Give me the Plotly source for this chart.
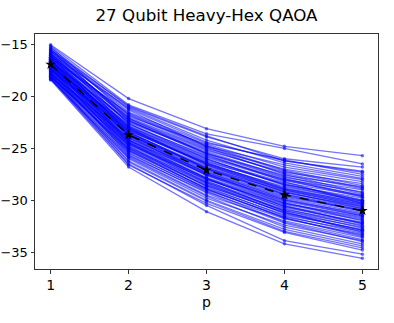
import plotly.graph_objects as go

p_values = [1, 2, 3, 4, 5]

# one row per QAOA instance: energy at p = 1..5
runs = [
    [-15.0, -20.2, -23.1, -24.8, -25.7],
    [-15.1, -20.8, -23.6, -25.0, -26.5],
    [-15.3, -21.0, -23.9, -26.0, -26.8],
    [-15.5, -21.2, -24.4, -26.2, -27.2],
    [-15.6, -21.5, -24.5, -26.1, -27.5],
    [-15.7, -21.3, -24.8, -26.6, -27.9],
    [-15.8, -21.9, -24.6, -26.8, -28.0],
    [-15.9, -22.0, -25.0, -27.0, -28.2],
    [-16.0, -22.2, -25.2, -27.3, -28.4],
    [-16.1, -22.1, -25.5, -27.6, -28.7],
    [-16.0, -22.5, -25.4, -27.8, -29.0],
    [-16.2, -22.6, -25.8, -28.0, -29.2],
    [-16.3, -22.8, -25.9, -28.1, -29.5],
    [-16.2, -22.9, -26.1, -28.3, -29.6],
    [-16.4, -23.0, -26.2, -28.5, -29.8],
    [-16.5, -23.1, -26.3, -28.4, -30.0],
    [-16.4, -23.3, -26.5, -28.7, -30.1],
    [-16.6, -23.2, -26.6, -28.9, -30.2],
    [-16.6, -23.5, -26.7, -29.0, -30.4],
    [-16.7, -23.4, -26.9, -29.1, -30.5],
    [-16.8, -23.6, -27.0, -29.3, -30.6],
    [-16.9, -23.7, -27.1, -29.4, -30.8],
    [-16.8, -23.8, -27.2, -29.6, -30.9],
    [-17.0, -23.9, -27.3, -29.7, -31.0],
    [-17.1, -24.0, -27.4, -29.8, -31.2],
    [-17.0, -24.1, -27.5, -30.0, -31.3],
    [-17.2, -24.2, -27.6, -30.1, -31.5],
    [-17.3, -24.3, -27.8, -30.3, -31.6],
    [-17.2, -24.5, -27.9, -30.4, -31.8],
    [-17.4, -24.6, -28.0, -30.6, -31.9],
    [-17.5, -24.7, -28.2, -30.7, -32.1],
    [-17.4, -24.9, -28.3, -30.9, -32.2],
    [-17.6, -25.0, -28.5, -31.0, -32.4],
    [-17.7, -25.2, -28.6, -31.2, -32.6],
    [-17.8, -25.3, -28.8, -31.4, -32.8],
    [-17.9, -25.5, -29.0, -31.6, -33.0],
    [-18.0, -25.7, -29.2, -31.8, -33.3],
    [-18.1, -25.8, -29.5, -32.0, -33.6],
    [-18.2, -26.0, -29.8, -32.4, -33.9],
    [-18.3, -26.2, -30.0, -32.8, -34.4],
    [-18.2, -26.5, -30.5, -33.9, -35.2],
    [-18.4, -26.8, -31.1, -34.2, -35.6],
    [-15.2, -21.8, -24.9, -27.5, -29.3],
    [-15.4, -22.3, -25.6, -28.2, -30.3],
    [-15.9, -21.1, -24.2, -26.4, -27.7],
    [-16.1, -23.6, -27.4, -30.2, -32.0],
    [-16.3, -21.6, -24.7, -27.1, -28.6],
    [-16.5, -24.4, -28.1, -31.1, -33.1],
    [-16.7, -22.4, -25.3, -27.7, -29.4],
    [-16.9, -24.8, -28.4, -31.3, -32.9],
    [-17.1, -22.7, -25.7, -28.0, -29.7],
    [-17.3, -25.1, -28.9, -31.7, -33.4],
    [-17.5, -23.3, -26.4, -28.8, -30.3],
    [-17.6, -25.6, -29.3, -32.2, -34.0],
    [-17.8, -24.0, -27.3, -29.9, -31.4],
    [-18.0, -26.3, -30.1, -33.0, -34.6],
    [-18.1, -24.6, -28.0, -30.5, -32.3],
    [-18.3, -25.9, -29.6, -32.6, -34.2],
    [-15.6, -22.1, -25.1, -27.4, -28.9],
    [-15.8, -22.6, -26.0, -28.6, -30.1],
    [-16.0, -23.0, -26.6, -29.2, -30.7],
    [-16.2, -23.4, -27.0, -29.5, -31.1],
    [-16.4, -23.8, -27.6, -30.3, -31.7],
    [-16.6, -24.2, -27.9, -30.8, -32.5],
    [-16.8, -24.5, -28.3, -31.0, -32.7],
    [-17.0, -22.9, -26.0, -28.5, -30.0],
    [-17.2, -23.2, -26.4, -28.9, -30.4],
    [-17.4, -23.7, -26.8, -29.2, -30.8],
    [-17.6, -24.2, -27.5, -30.0, -31.5],
    [-17.7, -24.8, -28.7, -31.5, -33.2],
    [-17.9, -25.4, -29.1, -32.1, -33.8],
    [-18.1, -25.0, -28.6, -31.2, -32.9],
    [-18.3, -26.6, -30.3, -33.1, -34.8],
    [-15.5, -20.9, -23.8, -26.2, -27.3],
    [-16.1, -21.7, -24.8, -27.2, -28.8],
    [-16.6, -22.3, -25.5, -27.9, -29.6],
    [-16.9, -23.1, -26.5, -29.0, -30.6],
    [-17.3, -23.5, -26.9, -29.4, -31.0],
    [-17.8, -24.4, -27.9, -30.6, -32.2],
    [-18.0, -25.2, -28.9, -31.7, -33.5],
]

mean_energy = [-16.9, -23.7, -27.1, -29.5, -31.0]

fig = go.Figure()

for run in runs:
    fig.add_trace(go.Scatter(
        x=p_values, y=run, mode="lines+markers",
        line=dict(color="rgba(0,0,255,0.55)", width=1.3),
        marker=dict(color="rgba(0,0,255,0.55)", size=3.5),
        showlegend=False, hoverinfo="skip",
    ))

fig.add_trace(go.Scatter(
    x=p_values, y=mean_energy, mode="lines+markers",
    line=dict(color="black", width=1.5, dash="dash"),
    marker=dict(color="black", symbol="star", size=8),
    showlegend=False,
))

axis_style = dict(
    showline=True, mirror=True, linecolor="#333333", linewidth=1,
    ticks="outside", ticklen=3.5, tickcolor="#333333",
    showgrid=False, zeroline=False, automargin=False,
)

fig.update_layout(
    width=394, height=323,
    margin=dict(l=35, r=16, t=34, b=54),
    paper_bgcolor="white", plot_bgcolor="white",
    font=dict(family="DejaVu Sans", color="black"),
    title=dict(text="27 Qubit Heavy-Hex QAOA", x=0.5, xref="paper", xanchor="center",
               y=1 - 15 / 323, yanchor="middle",
               font=dict(family="DejaVu Sans", size=16.7)),
    xaxis=dict(range=[0.8, 5.2], tickvals=p_values,
               tickfont=dict(family="DejaVu Sans", size=14, color="black"),
               title=dict(text="p", font=dict(size=14), standoff=4), **axis_style),
    yaxis=dict(range=[-36.63, -13.97], tickvals=[-35, -30, -25, -20, -15],
               tickfont=dict(family="DejaVu Sans", size=13, color="black"), **axis_style),
)

# drop the browser's default 8px body margin so the figure sits at the page corner
fig.write_html("out.html", config={"displayModeBar": False},
               post_script="document.body.style.margin = '0';")
